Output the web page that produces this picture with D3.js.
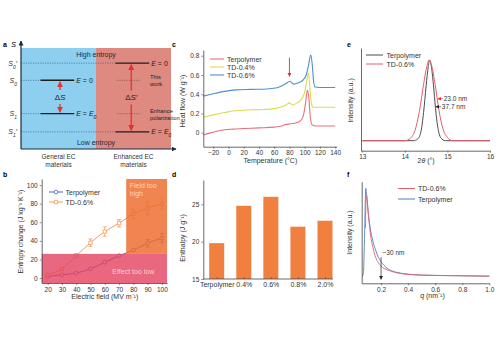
<!DOCTYPE html>
<html>
<head>
<meta charset="utf-8">
<script src="https://cdn.jsdelivr.net/npm/d3@7.9.0/dist/d3.min.js"></script>
<style>
  body { margin: 0; background: #fff; }
  svg { font-family: "Liberation Sans", Arial, sans-serif; }
</style>
</head>
<body>
<svg width="500" height="345"></svg>
<script>
// ---- panel a: entropy levels
const sections = ['General EC materials', 'Enhanced EC materials'];
const levels = ["S0'", 'S0', 'S1', "S1'"];
const levelValues = [85, 68, 35, 17];
const levelSection = [1, 0, 0, 1];
const levelField = ['0', '0', 'E0', 'E0'];

// ---- panel b: entropy change vs field
const fields = [20, 30, 40, 50, 60, 70, 80, 90, 100];
const terpolymerDS = [1.7, 3.5, 5.4, 10, 17, 24, 30, 37.5, 43];
const terpolymerErr = [0, 0, 0, 0, 0, 0, 1, 4, 5];
const td06DS = [3.5, 10, 24, 38, 50, 59, 69, 75, 80];
const td06Err = [0, 1, 2, 4, 5, 4, 5, 7, 6];

// ---- panel c: DSC heat flow
const cTerpolymer = [[-33,-0.025],[-25,-0.005],[-15,0.015],[-5,0.03],[5,0.037],[20,0.043],[40,0.05],[60,0.058],[70,0.07],[75,0.085],[80,0.09],[88,0.1],[94,0.12],[98,0.17],[101,0.3],[103.5,0.44],[105.5,0.36],[107.5,0.15],[110,0.08],[115,0.07],[140,0.07]];
const cTD04 = [[-33,0.16],[-20,0.185],[-5,0.21],[5,0.225],[20,0.235],[40,0.24],[60,0.25],[70,0.27],[76,0.29],[80,0.31],[84,0.29],[90,0.31],[96,0.35],[100,0.42],[103,0.55],[105,0.62],[107,0.45],[109,0.3],[111,0.265],[140,0.265]];
const cTD06 = [[-33,0.38],[-20,0.405],[-5,0.43],[10,0.445],[30,0.45],[50,0.455],[65,0.47],[73,0.5],[78,0.525],[81,0.535],[85,0.505],[92,0.52],[98,0.55],[102,0.6],[105,0.7],[108,0.81],[110,0.7],[111.5,0.55],[113.5,0.475],[120,0.47],[140,0.47]];

// ---- panel d: enthalpy
const enthalpyCats = ['Terpolymer', '0.4%', '0.6%', '0.8%', '2.0%'];
const enthalpy = [19.8, 24.8, 26.0, 22.0, 22.8];

// ---- panel e: XRD
const eTerpolymer = [[13,0],[14.2,0],[14.3,0.02],[14.38,0.12],[14.44,0.35],[14.5,0.68],[14.55,0.92],[14.58,1.0],[14.62,0.93],[14.67,0.7],[14.72,0.4],[14.77,0.18],[14.84,0.04],[14.95,0],[16,0]];
const eTD06 = [[13,0],[14.0,0],[14.13,0.03],[14.24,0.13],[14.34,0.36],[14.44,0.7],[14.52,0.93],[14.57,1.0],[14.63,0.93],[14.71,0.7],[14.8,0.38],[14.9,0.14],[15.0,0.04],[15.12,0],[16,0]];

// ---- panel f: SAXS
const fTD06 = [[0.085,0.55],[0.09,0.92],[0.095,0.9],[0.105,0.74],[0.12,0.5],[0.14,0.33],[0.16,0.22],[0.18,0.16],[0.2,0.12],[0.22,0.095],[0.25,0.075],[0.3,0.05],[0.35,0.035],[0.4,0.025],[0.5,0.018],[0.6,0.014],[0.8,0.01],[1.0,0.006]];
const fTerpolymer = [[0.062,0],[0.07,0.05],[0.078,0.45],[0.087,1.0],[0.095,0.9],[0.105,0.72],[0.12,0.55],[0.14,0.4],[0.16,0.3],[0.18,0.22],[0.2,0.17],[0.22,0.13],[0.25,0.09],[0.3,0.055],[0.35,0.038],[0.4,0.028],[0.5,0.018],[0.6,0.014],[0.8,0.01],[1.0,0.006]];

const svg = d3.select('svg');
const defs = svg.append('defs');
function arrowMarker(id, color, size) {
  defs.append('marker').attr('id', id)
    .attr('viewBox', '0 0 10 10').attr('refX', 9).attr('refY', 5)
    .attr('markerUnits', 'userSpaceOnUse')
    .attr('markerWidth', size).attr('markerHeight', size)
    .attr('orient', 'auto-start-reverse')
    .append('path').attr('d', 'M0,0L10,5L0,10z').attr('fill', color);
}
arrowMarker('arRed', '#e8302c', 6);
arrowMarker('arRedS', '#e8302c', 4);
arrowMarker('arBlack', '#222', 4);
arrowMarker('arAxis', '#1a2a3a', 5);

function styleAxis(g) {
  g.select('.domain').attr('stroke', '#444').attr('stroke-width', 0.8);
  g.selectAll('.tick line').attr('stroke', '#444').attr('stroke-width', 0.6);
  g.selectAll('.tick text').attr('font-size', 6.5).attr('fill', '#333');
}
function panelLabel(t, x, y) {
  svg.append('text').attr('x', x).attr('y', y).attr('font-size', 7)
    .attr('font-weight', 'bold').text(t);
}
function sub(sel, base, s, extra) {
  sel.append('tspan').text(base);
  sel.append('tspan').attr('font-size', '70%').attr('baseline-shift', 'sub').text(s);
  if (extra) sel.append('tspan').text(extra);
}

// ================= a
panelLabel('a', 3, 47);
const ax = d3.scaleBand().domain(sections).range([21, 171]);
const ay = d3.scaleLinear().domain([0, 100]).range([149, 48]);
const ga = svg.append('g');
ga.selectAll('rect').data(sections).join('rect')
  .attr('x', d => ax(d)).attr('y', ay(100))
  .attr('width', ax.bandwidth()).attr('height', ay(0) - ay(100))
  .attr('fill', (d, i) => i === 0 ? '#8ecff0' : '#df8a80');

const bw = ax.bandwidth();
levels.forEach((lv, i) => {
  const sx = ax(sections[levelSection[i]]);
  const y = ay(levelValues[i]);
  const x0 = sx + 0.26 * bw, x1 = sx + 0.71 * bw;
  ga.append('line').attr('x1', 21).attr('x2', x0).attr('y1', y).attr('y2', y)
    .attr('stroke', '#3b668f').attr('stroke-width', 0.7).attr('stroke-dasharray', '1.2,1.2');
  if (levelSection[i] === 0) {
    ga.append('line').attr('x1', ax(sections[1]) + 0.28 * bw).attr('x2', ax(sections[1]) + 0.58 * bw)
      .attr('y1', y).attr('y2', y)
      .attr('stroke', '#7a4a50').attr('stroke-width', 0.7).attr('stroke-dasharray', '1.2,1.2');
  }
  ga.append('line').attr('x1', x0).attr('x2', x1).attr('y1', y).attr('y2', y)
    .attr('stroke', '#1d1d1d').attr('stroke-width', 1.4);
  const lab = ga.append('text').attr('x', x1 + 2).attr('y', y + 2.5).attr('font-size', 7).attr('fill', '#222');
  lab.append('tspan').attr('font-style', 'italic').text('E');
  if (levelField[i] === '0') lab.append('tspan').text(' = 0');
  else { lab.append('tspan').text(' = '); sub(lab.append('tspan').attr('font-style', 'italic'), 'E', '0'); }
  // y tick label
  const yl = ga.append('text').attr('x', 17).attr('y', y + 2.5).attr('text-anchor', 'end')
    .attr('font-size', 7).attr('font-style', 'italic').attr('fill', '#333');
  sub(yl, 'S', lv.slice(1, 2), lv.length > 2 ? '′' : '');
});
// axes
ga.append('line').attr('x1', 21).attr('x2', 21).attr('y1', ay(0)).attr('y2', 41)
  .attr('stroke', '#1a2a3a').attr('stroke-width', 1.2).attr('marker-end', 'url(#arAxis)');
ga.append('line').attr('x1', 21).attr('x2', 176).attr('y1', ay(0)).attr('y2', ay(0))
  .attr('stroke', '#1a2a3a').attr('stroke-width', 1.2).attr('marker-end', 'url(#arAxis)');
ga.append('text').attr('x', 11).attr('y', 47).attr('font-size', 7.5).attr('font-style', 'italic').text('S');
ga.append('text').attr('x', ax(sections[1])).attr('y', ay(100) + 9).attr('text-anchor', 'middle')
  .attr('font-size', 7).attr('fill', '#1d2a3a').text('High entropy');
ga.append('text').attr('x', ax(sections[1])).attr('y', ay(0) - 4).attr('text-anchor', 'middle')
  .attr('font-size', 7).attr('fill', '#1d2a3a').text('Low entropy');
// notes in enhanced section
const noteX = ax(sections[1]) + 0.72 * bw;
[['This', 'work', levelValues[1]], ['Enhance', 'polarization', levelValues[2]]].forEach(n => {
  const t = ga.append('text').attr('x', noteX).attr('font-size', 5.8).attr('fill', '#222');
  t.append('tspan').attr('x', noteX).attr('y', ay(n[2]) - 1).text(n[0]);
  t.append('tspan').attr('x', noteX).attr('y', ay(n[2]) + 6).text(n[1]);
});
// ΔS arrows
function dsArrow(sec, top, bottom, label) {
  const cx = ax(sections[sec]) + (sec === 0 ? 0.52 : 0.47) * bw;
  const mid = (ay(top) + ay(bottom)) / 2;
  ga.append('line').attr('x1', cx).attr('x2', cx).attr('y1', mid - 7).attr('y2', ay(top) + 1.5)
    .attr('stroke', '#e8302c').attr('stroke-width', 1.3).attr('marker-end', 'url(#arRed)');
  ga.append('line').attr('x1', cx).attr('x2', cx).attr('y1', mid + 7).attr('y2', ay(bottom) - 1.5)
    .attr('stroke', '#e8302c').attr('stroke-width', 1.3).attr('marker-end', 'url(#arRed)');
  const t = ga.append('text').attr('x', cx).attr('y', mid + 3).attr('text-anchor', 'middle')
    .attr('font-size', 8).attr('fill', '#222');
  t.append('tspan').text('Δ');
  t.append('tspan').attr('font-style', 'italic').text(label);
}
dsArrow(0, levelValues[1], levelValues[2], 'S');
dsArrow(1, levelValues[0], levelValues[3], 'S′');
sections.forEach(s => {
  const words = s.split(' ');
  const t = ga.append('text').attr('text-anchor', 'middle').attr('font-size', 6.5).attr('fill', '#333');
  t.append('tspan').attr('x', ax(s) + bw / 2).attr('y', 159).text(words.slice(0, 2).join(' '));
  t.append('tspan').attr('x', ax(s) + bw / 2).attr('y', 167).text(words[2]);
});

// ================= b
panelLabel('b', 3, 177);
const bx = d3.scaleLinear().domain([15.8, 103.6]).range([41.7, 167]);
const by = d3.scaleLinear().domain([-5.3, 106.5]).range([283, 179]);
const gb = svg.append('g');
const lineB = d3.line().x(d => bx(d[0])).y(d => by(d[1])).curve(d3.curveMonotoneX);
const seriesB = [
  { name: 'Terpolymer', vals: terpolymerDS, err: terpolymerErr, color: '#4c6cb3', shape: 'circle' },
  { name: 'TD-0.6%', vals: td06DS, err: td06Err, color: '#f29a5a', shape: 'square' }
];
seriesB.forEach(s => {
  const pts = fields.map((f, i) => [f, s.vals[i], s.err[i]]);
  gb.append('path').datum(pts).attr('d', lineB).attr('fill', 'none')
    .attr('stroke', s.color).attr('stroke-width', 1);
  pts.filter(p => p[2] > 0).forEach(p => {
    gb.append('path').attr('d', `M${bx(p[0])},${by(p[1] - p[2])}V${by(p[1] + p[2])}M${bx(p[0]) - 2},${by(p[1] - p[2])}h4M${bx(p[0]) - 2},${by(p[1] + p[2])}h4`)
      .attr('stroke', s.color).attr('stroke-width', 0.8).attr('fill', 'none');
  });
  gb.selectAll(null).data(pts).join('path')
    .attr('transform', p => `translate(${bx(p[0])},${by(p[1])})`)
    .attr('d', d3.symbol(s.shape === 'circle' ? d3.symbolCircle : d3.symbolSquare, 11))
    .attr('fill', '#fff').attr('stroke', s.color).attr('stroke-width', 0.8);
});
// regions
const lowLimit = 26, highField = 75;
gb.append('rect').attr('x', bx(highField)).attr('y', by(106.5))
  .attr('width', bx(103.6) - bx(highField)).attr('height', by(lowLimit) - by(106.5))
  .attr('fill', '#ee6a2c').attr('opacity', 0.82);
gb.append('rect').attr('x', bx(15.8)).attr('y', by(lowLimit))
  .attr('width', bx(103.6) - bx(15.8)).attr('height', by(-5.3) - by(lowLimit))
  .attr('fill', '#e4415f').attr('opacity', 0.8);
gb.append('text').attr('x', bx(80)).attr('y', by(4)).attr('text-anchor', 'middle')
  .attr('font-size', 7).attr('fill', '#fbd0d6').text('Effect too low');
const fth = gb.append('text').attr('font-size', 7).attr('fill', '#fcd6c0');
fth.append('tspan').attr('x', bx(77.5)).attr('y', by(97)).text('Field too');
fth.append('tspan').attr('x', bx(77.5)).attr('y', by(88)).text('high');
const gbx = gb.append('g').attr('transform', 'translate(0,283)')
  .call(d3.axisBottom(bx).tickValues(fields).tickSize(2).tickSizeOuter(0).tickPadding(2));
styleAxis(gbx);
const gby = gb.append('g').attr('transform', 'translate(41.7,0)')
  .call(d3.axisLeft(by).tickValues([0, 20, 40, 60, 80, 100]).tickSize(2).tickSizeOuter(0).tickPadding(2));
styleAxis(gby);
gb.append('text').attr('x', bx(60)).attr('y', 299).attr('text-anchor', 'middle')
  .attr('font-size', 7).attr('fill', '#333').text('Electric field (MV m⁻¹)');
gb.append('text').attr('transform', `translate(23,${by(50)}) rotate(-90)`).attr('text-anchor', 'middle')
  .attr('font-size', 7).attr('fill', '#333').text('Entropy change (J kg⁻¹ K⁻¹)');
seriesB.forEach((s, i) => {
  const y = 192 + i * 10;
  gb.append('line').attr('x1', 49).attr('x2', 63).attr('y1', y).attr('y2', y).attr('stroke', s.color).attr('stroke-width', 1);
  gb.append('path').attr('transform', `translate(56,${y})`)
    .attr('d', d3.symbol(s.shape === 'circle' ? d3.symbolCircle : d3.symbolSquare, 11))
    .attr('fill', '#fff').attr('stroke', s.color).attr('stroke-width', 0.8);
  gb.append('text').attr('x', 65.5).attr('y', y + 2.5).attr('font-size', 7).attr('fill', '#333').text(s.name);
});

// ================= c
panelLabel('c', 172, 47);
const cx = d3.scaleLinear().domain([-33, 142]).range([203.3, 336.7]);
const cy = d3.scaleLinear().domain([-0.146, 0.86]).range([146.7, 50]);
const gc = svg.append('g');
const lineC = d3.line().x(d => cx(d[0])).y(d => cy(d[1])).curve(d3.curveMonotoneX);
const seriesC = [
  { name: 'Terpolymer', data: cTerpolymer, color: '#e8707a' },
  { name: 'TD-0.4%', data: cTD04, color: '#dcdc4c' },
  { name: 'TD-0.6%', data: cTD06, color: '#4f8fd0' }
];
seriesC.forEach((s, i) => {
  gc.append('path').datum(s.data).attr('d', lineC).attr('fill', 'none')
    .attr('stroke', s.color).attr('stroke-width', 1.1);
  const y = 59 + i * 8;
  gc.append('line').attr('x1', 210).attr('x2', 224).attr('y1', y).attr('y2', y).attr('stroke', s.color).attr('stroke-width', 1.1);
  gc.append('text').attr('x', 227).attr('y', y + 2.5).attr('font-size', 7).attr('fill', '#333').text(s.name);
});
gc.append('line').attr('x1', cx(80)).attr('x2', cx(80)).attr('y1', cy(0.78)).attr('y2', cy(0.585))
  .attr('stroke', '#e8302c').attr('stroke-width', 0.9).attr('marker-end', 'url(#arRedS)');
const gcx = gc.append('g').attr('transform', 'translate(0,146.7)')
  .call(d3.axisBottom(cx).tickValues(d3.range(-20, 141, 20)).tickSize(2).tickSizeOuter(0).tickPadding(2));
styleAxis(gcx);
const gcy = gc.append('g').attr('transform', 'translate(203.3,0)')
  .call(d3.axisLeft(cy).tickValues([0, 0.2, 0.4, 0.6, 0.8]).tickFormat(d => d === 0 ? '0' : d3.format('.1f')(d))
    .tickSize(2).tickSizeOuter(0).tickPadding(2));
styleAxis(gcy);
gc.append('text').attr('x', cx(55)).attr('y', 163).attr('text-anchor', 'middle')
  .attr('font-size', 7).attr('fill', '#333').text('Temperature (°C)');
gc.append('text').attr('transform', `translate(185,${cy(0.33)}) rotate(-90)`).attr('text-anchor', 'middle')
  .attr('font-size', 7).attr('fill', '#333').text('Heat flow (W g⁻¹)');

// ================= d
panelLabel('d', 172, 177);
const dx = d3.scalePoint().domain(enthalpyCats).range([216.7, 325]);
const dy = d3.scaleLinear().domain([15, 28.25]).range([279, 180]);
const gd = svg.append('g');
gd.selectAll('rect').data(enthalpy).join('rect')
  .attr('x', (d, i) => dx(enthalpyCats[i]) - 7.5).attr('width', 15)
  .attr('y', d => dy(d)).attr('height', d => dy(15) - dy(d))
  .attr('fill', '#f07f40');
gd.append('line').attr('x1', 203.3).attr('x2', 333).attr('y1', 279).attr('y2', 279)
  .attr('stroke', '#444').attr('stroke-width', 0.8);
const gdx = gd.append('g').attr('transform', 'translate(0,279)')
  .call(d3.axisBottom(dx).tickSize(-2).tickSizeOuter(0).tickPadding(3));
gdx.select('.domain').remove();
styleAxis(gdx);
gdx.selectAll('.tick text').attr('font-size', 7);
const gdy = gd.append('g').attr('transform', 'translate(203.3,0)')
  .call(d3.axisLeft(dy).tickValues([15, 20, 25]).tickSize(2).tickSizeOuter(0).tickPadding(2));
styleAxis(gdy);
gd.append('text').attr('transform', `translate(185,${dy(20.5)}) rotate(-90)`).attr('text-anchor', 'middle')
  .attr('font-size', 7).attr('fill', '#333').text('Enthalpy (J g⁻¹)');

// ================= e
panelLabel('e', 347, 47);
const ex = d3.scaleLinear().domain([12.97, 16]).range([361, 490]);
const ey = d3.scaleLinear().domain([-0.124, 1.15]).range([150.7, 48]);
const ge = svg.append('g');
const lineE = d3.line().x(d => ex(d[0])).y(d => ey(d[1])).curve(d3.curveMonotoneX);
const seriesE = [
  { name: 'Terpolymer', data: eTerpolymer, color: '#4a4a4a', marker: 'arBlack', label: '37.7 nm', lev: 0.42 },
  { name: 'TD-0.6%', data: eTD06, color: '#e0606e', marker: 'arRedS', label: '23.0 nm', lev: 0.52 }
];
seriesE.forEach((s, i) => {
  ge.append('path').datum(s.data).attr('d', lineE).attr('fill', 'none')
    .attr('stroke', s.color).attr('stroke-width', 1);
  const y = 55 + i * 9;
  ge.append('line').attr('x1', 366).attr('x2', 383).attr('y1', y).attr('y2', y).attr('stroke', s.color).attr('stroke-width', 1);
  ge.append('text').attr('x', 386.5).attr('y', y + 2.5).attr('font-size', 7).attr('fill', '#333').text(s.name);
});
seriesE.forEach(s => {
  // right flank crossing point
  const right = s.data.filter(p => p[0] > 14.6);
  const k = right.findIndex(p => p[1] < s.lev);
  const a = right[k - 1], b = right[k];
  const xv = a[0] + (b[0] - a[0]) * (a[1] - s.lev) / (a[1] - b[1]);
  const y = ey(s.lev);
  ge.append('line').attr('x1', ex(xv) + 6).attr('x2', ex(xv) + 0.5).attr('y1', y).attr('y2', y)
    .attr('stroke', s.color).attr('stroke-width', 0.7).attr('marker-end', `url(#${s.marker})`);
  ge.append('text').attr('x', ex(xv) + 6.5).attr('y', y + 2.3).attr('font-size', 6.5).attr('fill', '#333').text(s.label);
});
const gex = ge.append('g').attr('transform', 'translate(0,150.7)')
  .call(d3.axisBottom(ex).tickValues([13, 14, 15, 16]).tickFormat(d3.format('d'))
    .tickSize(2).tickSizeOuter(0).tickPadding(2));
styleAxis(gex);
const gey = ge.append('g').attr('transform', 'translate(361,0)')
  .call(d3.axisLeft(ey).tickValues([]).tickSizeOuter(0));
styleAxis(gey);
const exl = ge.append('text').attr('x', ex(14.5)).attr('y', 163).attr('text-anchor', 'middle')
  .attr('font-size', 7).attr('fill', '#333');
exl.append('tspan').text('2');
exl.append('tspan').attr('font-style', 'italic').text('θ');
exl.append('tspan').text(' (°)');
ge.append('text').attr('transform', `translate(353,${ey(0.5)}) rotate(-90)`).attr('text-anchor', 'middle')
  .attr('font-size', 7).attr('fill', '#333').text('Intensity (a.u.)');

// ================= f
panelLabel('f', 347, 177);
const fx = d3.scaleLinear().domain([0.057, 1.0]).range([361.7, 489.3]);
const fy = d3.scaleLinear().domain([-0.075, 1.075]).range([283.3, 181.7]);
const gf = svg.append('g');
const lineF = d3.line().x(d => fx(d[0])).y(d => fy(d[1])).curve(d3.curveMonotoneX);
const seriesF = [
  { name: 'TD-0.6%', data: fTD06, color: '#e0606e' },
  { name: 'Terpolymer', data: fTerpolymer, color: '#4f7fc0' }
];
[seriesF[1], seriesF[0]].forEach(s => {
  gf.append('path').datum(s.data).attr('d', lineF).attr('fill', 'none')
    .attr('stroke', s.color).attr('stroke-width', 1).attr('opacity', 0.9);
});
seriesF.forEach((s, i) => {
  const y = 188.5 + i * 10.5;
  gf.append('line').attr('x1', 398).attr('x2', 415).attr('y1', y).attr('y2', y).attr('stroke', s.color).attr('stroke-width', 1);
  gf.append('text').attr('x', 418).attr('y', y + 2.5).attr('font-size', 7).attr('fill', '#333').text(s.name);
});
gf.append('line').attr('x1', fx(0.2)).attr('x2', fx(0.2)).attr('y1', fy(0.22)).attr('y2', fy(-0.03))
  .attr('stroke', '#222').attr('stroke-width', 0.7).attr('marker-end', 'url(#arBlack)');
gf.append('text').attr('x', fx(0.2) + 1.5).attr('y', fy(0.24)).attr('font-size', 6.5).attr('fill', '#333').text('~30 nm');
const gfx = gf.append('g').attr('transform', 'translate(0,283.3)')
  .call(d3.axisBottom(fx).tickValues([0.2, 0.4, 0.6, 0.8, 1.0]).tickFormat(d3.format('.1f'))
    .tickSize(2).tickSizeOuter(0).tickPadding(2));
styleAxis(gfx);
const gfy = gf.append('g').attr('transform', 'translate(361.7,0)')
  .call(d3.axisLeft(fy).tickValues([]).tickSizeOuter(0));
styleAxis(gfy);
const fxl = gf.append('text').attr('x', fx(0.58)).attr('y', 298).attr('text-anchor', 'middle')
  .attr('font-size', 7).attr('fill', '#333');
fxl.append('tspan').attr('font-style', 'italic').text('q');
fxl.append('tspan').text(' (nm⁻¹)');
gf.append('text').attr('transform', `translate(352,${fy(0.5)}) rotate(-90)`).attr('text-anchor', 'middle')
  .attr('font-size', 7).attr('fill', '#333').text('Intensity (a.u.)');
</script>
</body>
</html>
